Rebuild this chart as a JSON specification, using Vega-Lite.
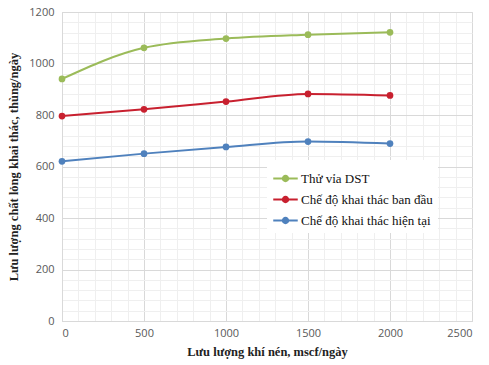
{
  "$schema": "https://vega.github.io/schema/vega-lite/v6.json",
  "width": 410,
  "height": 309,
  "autosize": "none",
  "padding": {"left": 62, "top": 12, "right": 17, "bottom": 44},
  "background": "white",
  "data": {"values": [
    {"x": 0, "y": 940, "s": "Thử vỉa DST"},
    {"x": 500, "y": 1061, "s": "Thử vỉa DST"},
    {"x": 1000, "y": 1097, "s": "Thử vỉa DST"},
    {"x": 1500, "y": 1112, "s": "Thử vỉa DST"},
    {"x": 2000, "y": 1121, "s": "Thử vỉa DST"},
    {"x": 0, "y": 796, "s": "Chế độ khai thác ban đầu"},
    {"x": 500, "y": 822, "s": "Chế độ khai thác ban đầu"},
    {"x": 1000, "y": 852, "s": "Chế độ khai thác ban đầu"},
    {"x": 1500, "y": 882, "s": "Chế độ khai thác ban đầu"},
    {"x": 2000, "y": 876, "s": "Chế độ khai thác ban đầu"},
    {"x": 0, "y": 620, "s": "Chế độ khai thác hiện tại"},
    {"x": 500, "y": 650, "s": "Chế độ khai thác hiện tại"},
    {"x": 1000, "y": 676, "s": "Chế độ khai thác hiện tại"},
    {"x": 1500, "y": 697, "s": "Chế độ khai thác hiện tại"},
    {"x": 2000, "y": 689, "s": "Chế độ khai thác hiện tại"}
  ]},
  "mark": {"type": "line", "interpolate": "monotone", "strokeWidth": 2, "point": {"filled": true, "size": 45, "opacity": 1}},
  "encoding": {
    "x": {
      "field": "x", "type": "quantitative",
      "scale": {"domain": [0, 2500], "nice": false},
      "axis": {
        "values": [0,100,200,300,400,500,600,700,800,900,1000,1100,1200,1300,1400,1500,1600,1700,1800,1900,2000,2100,2200,2300,2400,2500],
        "labelExpr": "datum.value % 500 === 0 ? datum.label : ''",
        "format": "d",
        "ticks": false,
        "domain": true,
        "domainColor": "#d9d9d9",
        "gridColor": {"condition": {"test": "datum.value % 500 === 0", "value": "#d9d9d9"}, "value": "#efefef"},
        "labelFont": "Open Sans", "labelFontSize": 11, "labelColor": "#595959", "labelPadding": 6,
        "labelOverlap": false,
        "title": "Lưu lượng khí nén, mscf/ngày",
        "titleFont": "Liberation Serif", "titleFontSize": 12.5, "titleFontWeight": "bold", "titleColor": "#222222", "titlePadding": 7
      }
    },
    "y": {
      "field": "y", "type": "quantitative",
      "scale": {"domain": [0, 1200], "nice": false},
      "axis": {
        "values": [0,40,80,120,160,200,240,280,320,360,400,440,480,520,560,600,640,680,720,760,800,840,880,920,960,1000,1040,1080,1120,1160,1200],
        "labelExpr": "datum.value % 200 === 0 ? datum.label : ''",
        "format": "d",
        "ticks": false,
        "domain": true,
        "domainColor": "#d9d9d9",
        "gridColor": {"condition": {"test": "datum.value % 200 === 0", "value": "#d9d9d9"}, "value": "#efefef"},
        "labelFont": "Open Sans", "labelFontSize": 11, "labelColor": "#595959", "labelPadding": 8,
        "labelOverlap": false,
        "title": "Lưu lượng chất lỏng khai thác, thùng/ngày",
        "titleFont": "Liberation Serif", "titleFontSize": 12.5, "titleFontWeight": "bold", "titleColor": "#222222", "titlePadding": 8
      }
    },
    "color": {
      "field": "s", "type": "nominal",
      "scale": {"domain": ["Thử vỉa DST", "Chế độ khai thác ban đầu", "Chế độ khai thác hiện tại"], "range": ["#9bbb59", "#c8202f", "#4f81bd"]},
      "legend": {
        "title": null,
        "orient": "none",
        "legendX": 205,
        "legendY": 148,
        "fillColor": "white",
        "padding": 5,
        "symbolType": "M -1 0 L 1 0 M 0.22 0 A 0.22 0.22 0 1 1 -0.22 0 A 0.22 0.22 0 1 1 0.22 0 Z",
        "symbolSize": 600,
        "symbolStrokeWidth": 2,
        "symbolOpacity": 1,
        "labelFont": "Liberation Serif", "labelFontSize": 13, "labelColor": "#111111",
        "labelOffset": 2,
        "rowPadding": -3
      }
    }
  }
}
